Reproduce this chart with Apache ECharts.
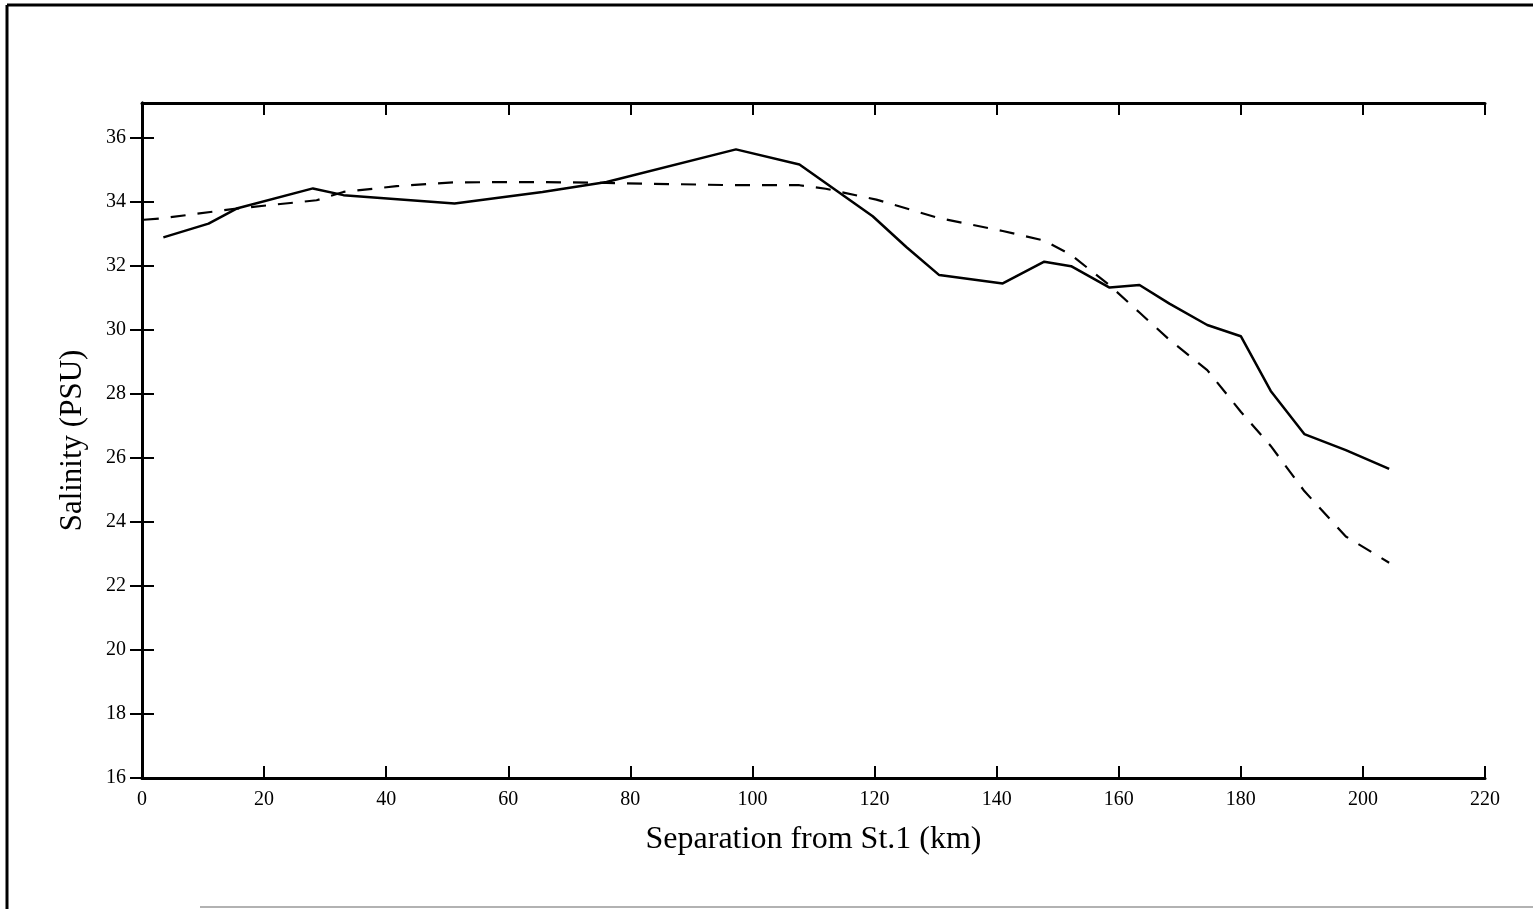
<!DOCTYPE html>
<html>
<head>
<meta charset="utf-8">
<script src="https://cdn.jsdelivr.net/npm/echarts@6/dist/echarts.min.js"></script>
<style>
  html, body { margin: 0; padding: 0; background: #fff; }
  #chart { width: 1533px; height: 909px; }
</style>
</head>
<body>
<div id="chart"></div>
<script>
// separation (km), salinity (PSU)
const solidLine = [
  [3.5, 32.9], [10.9, 33.33], [15.5, 33.8], [28, 34.43], [33, 34.22],
  [51.2, 33.96], [65.6, 34.32], [76.1, 34.63], [97.3, 35.65], [107.7, 35.18],
  [119.7, 33.56], [125.2, 32.6], [130.6, 31.72], [141, 31.46], [147.8, 32.14],
  [152.2, 32.0], [158.5, 31.33], [163.4, 31.41], [168.3, 30.83], [174.5, 30.16],
  [180, 29.81], [184.9, 28.1], [190.4, 26.75], [197.2, 26.25], [204.3, 25.66]
];
const dashedLine = [
  [0.3, 33.45], [3.5, 33.5], [15.5, 33.8], [28.6, 34.06], [33, 34.32],
  [41.7, 34.5], [51.2, 34.62], [65.6, 34.63], [76.1, 34.6], [97.3, 34.53],
  [107.7, 34.53], [112, 34.42], [120.3, 34.08], [130.6, 33.5], [141, 33.1],
  [147.8, 32.8], [152.2, 32.35], [158.5, 31.4], [163.4, 30.55], [168.3, 29.7],
  [174.5, 28.75], [180, 27.45], [184.9, 26.38], [190.4, 24.97], [197.2, 23.55],
  [204.3, 22.73]
];
const xTicks = [0, 20, 40, 60, 80, 100, 120, 140, 160, 180, 200, 220];
const yTicks = [16, 18, 20, 22, 24, 26, 28, 30, 32, 34, 36];
const yMax = 37.1;

const font = "'Liberation Serif', 'DejaVu Serif', serif";
const chart = echarts.init(document.getElementById('chart'));

function axisBase(min, max, ticks) {
  return {
    type: 'value',
    min: min,
    max: max,
    splitLine: { show: false },
    axisLine: { show: true, lineStyle: { color: '#000', width: 3 } },
    axisTick: { show: true, inside: true, length: 12, customValues: ticks, lineStyle: { color: '#000', width: 2 } }
  };
}

chart.setOption({
  animation: false,
  backgroundColor: '#fff',
  grid: { left: 142, right: 48, top: 103, bottom: 131, containLabel: false },
  xAxis: [
    Object.assign(axisBase(0, 220, xTicks), {
      position: 'bottom',
      name: 'Separation from St.1 (km)',
      nameLocation: 'middle',
      nameGap: 46,
      nameTextStyle: { fontFamily: font, fontSize: 32, color: '#000' },
      axisLabel: { fontFamily: font, fontSize: 20, color: '#000', margin: 12, customValues: xTicks }
    }),
    Object.assign(axisBase(0, 220, xTicks), { position: 'top', axisLabel: { show: false } })
  ],
  yAxis: [
    Object.assign(axisBase(16, yMax, yTicks), {
      position: 'left',
      name: 'Salinity (PSU)',
      nameLocation: 'middle',
      nameGap: 54,
      nameTextStyle: { fontFamily: font, fontSize: 31, color: '#000' },
      axisLabel: { fontFamily: font, fontSize: 20, color: '#000', margin: 16, customValues: yTicks }
    }),
    Object.assign(axisBase(16, yMax, yTicks), { position: 'right', axisLabel: { show: false } })
  ],
  graphic: [
    { type: 'line', shape: { x1: 7, y1: 5, x2: 1533, y2: 5 }, style: { stroke: '#000', lineWidth: 3 } },
    { type: 'line', shape: { x1: 7, y1: 5, x2: 7, y2: 909 }, style: { stroke: '#000', lineWidth: 3 } },
    { type: 'line', shape: { x1: 200, y1: 907, x2: 1533, y2: 907 }, style: { stroke: '#999', lineWidth: 1.5 } }
  ],
  series: [
    {
      type: 'line',
      data: solidLine,
      symbol: 'none',
      lineStyle: { color: '#000', width: 2.5 }
    },
    {
      type: 'line',
      data: dashedLine,
      symbol: 'none',
      lineStyle: { color: '#000', width: 2.2, type: [15, 12] }
    }
  ]
});
</script>
</body>
</html>
